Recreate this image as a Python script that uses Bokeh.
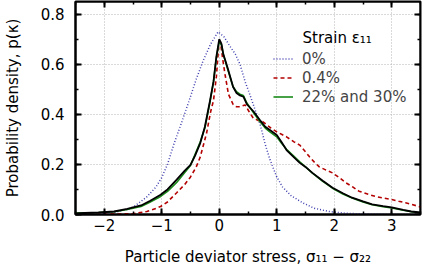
from bokeh.plotting import figure
from bokeh.models import (LinearAxis, Range1d, SingleIntervalTicker, Legend,
                          LegendItem, Label, CustomJSTickFormatter)
from bokeh.embed import file_html
from bokeh.resources import INLINE

# Probability density of particle deviator stress at several strain levels
x_0 = [-2.5, -2.2, -2.0, -1.8, -1.6, -1.48, -1.26, -1.1, -1.0, -0.9, -0.79, -0.65,
       -0.53, -0.4, -0.28, -0.15, -0.02, 0.08, 0.19, 0.28, 0.36, 0.45, 0.53, 0.62,
       0.71, 0.8, 0.88, 1.0, 1.1, 1.25, 1.45, 1.65, 1.91, 2.2, 2.5, 3.0, 3.5]
p_0 = [0.000, 0.002, 0.005, 0.010, 0.020, 0.032, 0.070, 0.110, 0.147, 0.200, 0.280, 0.370,
       0.450, 0.540, 0.614, 0.680, 0.729, 0.710, 0.670, 0.640, 0.600, 0.530, 0.480, 0.420,
       0.360, 0.280, 0.220, 0.150, 0.110, 0.075, 0.047, 0.025, 0.012, 0.005, 0.002, 0.000, 0.000]

x_04 = [-2.5, -2.0, -1.5, -1.26, -1.1, -1.02, -0.9, -0.74, -0.6, -0.5, -0.4, -0.33,
        -0.22, -0.15, -0.1, -0.05, -0.01, 0.02, 0.06, 0.1, 0.16, 0.24, 0.3, 0.36,
        0.45, 0.52, 0.59, 0.68, 0.76, 0.9, 1.0, 1.1, 1.17, 1.3, 1.4, 1.5, 1.57,
        1.65, 1.74, 1.85, 1.97, 2.1, 2.2, 2.32, 2.43, 2.6, 2.72, 2.85, 3.0, 3.12,
        3.24, 3.35, 3.5]
p_04 = [0.000, 0.001, 0.003, 0.012, 0.024, 0.032, 0.050, 0.087, 0.120, 0.150, 0.190, 0.230,
        0.325, 0.410, 0.455, 0.550, 0.670, 0.690, 0.620, 0.560, 0.480, 0.440, 0.430, 0.430,
        0.437, 0.410, 0.385, 0.375, 0.370, 0.345, 0.330, 0.318, 0.310, 0.290, 0.277, 0.250, 0.230,
        0.210, 0.190, 0.178, 0.166, 0.145, 0.127, 0.110, 0.093, 0.080, 0.072, 0.066, 0.060, 0.053,
        0.047, 0.040, 0.030]

x_late = [-2.5, -2.34, -2.1, -1.83, -1.6, -1.36, -1.2, -1.02, -0.9, -0.74, -0.6, -0.5,
          -0.42, -0.33, -0.25, -0.16, -0.1, -0.05, 0.0, 0.04, 0.07, 0.14, 0.24, 0.3,
          0.36, 0.42, 0.48, 0.6, 0.71, 0.8, 0.88, 1.0, 1.08, 1.17, 1.3, 1.4, 1.5,
          1.62, 1.8, 1.97, 2.15, 2.31, 2.5, 2.66, 2.85, 3.0, 3.2, 3.34, 3.5]
p_22 = [0.006, 0.007, 0.008, 0.011, 0.020, 0.032, 0.050, 0.072, 0.092, 0.128, 0.168, 0.196,
        0.240, 0.290, 0.345, 0.450, 0.530, 0.625, 0.690, 0.675, 0.640, 0.585, 0.510, 0.490,
        0.480, 0.475, 0.445, 0.405, 0.370, 0.345, 0.330, 0.310, 0.285, 0.260, 0.232, 0.210, 0.190,
        0.165, 0.132, 0.105, 0.082, 0.066, 0.050, 0.039, 0.031, 0.026, 0.017, 0.011, 0.007]
p_30 = [0.004, 0.006, 0.008, 0.012, 0.022, 0.036, 0.055, 0.079, 0.100, 0.139, 0.175, 0.198,
        0.235, 0.285, 0.350, 0.455, 0.530, 0.630, 0.700, 0.680, 0.640, 0.590, 0.510, 0.485,
        0.475, 0.470, 0.440, 0.410, 0.376, 0.350, 0.337, 0.317, 0.290, 0.257, 0.228, 0.206, 0.190,
        0.166, 0.135, 0.107, 0.085, 0.067, 0.052, 0.040, 0.033, 0.028, 0.018, 0.012, 0.008]

X_MIN, X_MAX = -2.5, 3.5
Y_MIN, Y_MAX = 0.0, 0.85

FONT = "DejaVu Sans"
FS = "15px"

p = figure(width=422, height=268, output_backend="svg", toolbar_location=None,
           x_range=Range1d(X_MIN, X_MAX), y_range=Range1d(Y_MIN, Y_MAX),
           min_border_left=73, min_border_right=2, min_border_top=1, min_border_bottom=0,
           x_axis_label="Particle deviator stress, σ₁₁ − σ₂₂",
           y_axis_label="Probability density, p(κ)")
p.background_fill_color = "white"
p.border_fill_color = "white"
p.outline_line_color = "black"
p.outline_line_width = 2

xt = SingleIntervalTicker(interval=1, num_minor_ticks=2)
yt = SingleIntervalTicker(interval=0.2, num_minor_ticks=2)
p.xaxis.ticker = xt
p.yaxis.ticker = yt
p.xgrid.ticker = xt
p.ygrid.ticker = yt
p.yaxis.formatter = CustomJSTickFormatter(code="return tick.toFixed(1);")

for ax in (p.xaxis[0], p.yaxis[0]):
    ax.axis_line_width = 2
    ax.major_tick_in = 6
    ax.major_tick_out = 0
    ax.minor_tick_in = 3
    ax.minor_tick_out = 0
    ax.major_tick_line_width = 2
    ax.minor_tick_line_width = 1.5
    ax.major_label_text_font = FONT
    ax.major_label_text_font_size = FS
    ax.major_label_text_color = "black"
    ax.axis_label_text_font = FONT
    ax.axis_label_text_font_size = FS
    ax.axis_label_text_font_style = "normal"
    ax.axis_label_text_color = "black"
p.xaxis.major_label_standoff = 4
p.xaxis.axis_label_standoff = 14
p.yaxis.major_label_standoff = 11
p.yaxis.axis_label_standoff = 16

# mirrored ticks on the top and right edges, pinned to the frame edges
for side, t, loc in (("above", SingleIntervalTicker(interval=1, num_minor_ticks=2), Y_MAX),
                     ("right", SingleIntervalTicker(interval=0.2, num_minor_ticks=2), X_MAX)):
    ax = LinearAxis(ticker=t, formatter=CustomJSTickFormatter(code="return '';"),
                    fixed_location=loc,
                    axis_line_width=2, major_tick_in=6, major_tick_out=0,
                    minor_tick_in=3, minor_tick_out=0, major_tick_line_width=2,
                    minor_tick_line_width=1.5, major_label_standoff=0,
                    major_label_text_font_size="1px")
    p.add_layout(ax, side)

for g in (p.xgrid[0], p.ygrid[0]):
    g.grid_line_color = "#b4b4b4"
    g.grid_line_dash = "1 2"
    g.grid_line_width = 1

r0 = p.line(x_0, p_0, line_color="#4040b0", line_width=1.5, line_dash="1 2")
r04 = p.line(x_04, p_04, line_color="#b40000", line_width=1.6, line_dash="4 3")
r22 = p.line(x_late, p_22, line_color="#1a8a1a", line_width=1.6)
r30 = p.line(x_late, p_30, line_color="black", line_width=1.8)

legend = Legend(items=[LegendItem(label="0%", renderers=[r0]),
                       LegendItem(label="0.4%", renderers=[r04]),
                       LegendItem(label="22% and 30%", renderers=[r22])],
                location=(198, 108), padding=0, margin=0, spacing=0,
                glyph_width=20, glyph_height=19, label_height=19, label_standoff=9,
                label_text_font=FONT, label_text_font_size=FS,
                background_fill_alpha=0, border_line_alpha=0)
p.add_layout(legend)

p.add_layout(Label(x=227, y=177, x_units="screen", y_units="screen",
                   text="Strain ε₁₁", text_font=FONT, text_font_size=FS,
                   text_baseline="middle", text_color="black"))

open("out.html", "w").write(file_html(p, INLINE))
